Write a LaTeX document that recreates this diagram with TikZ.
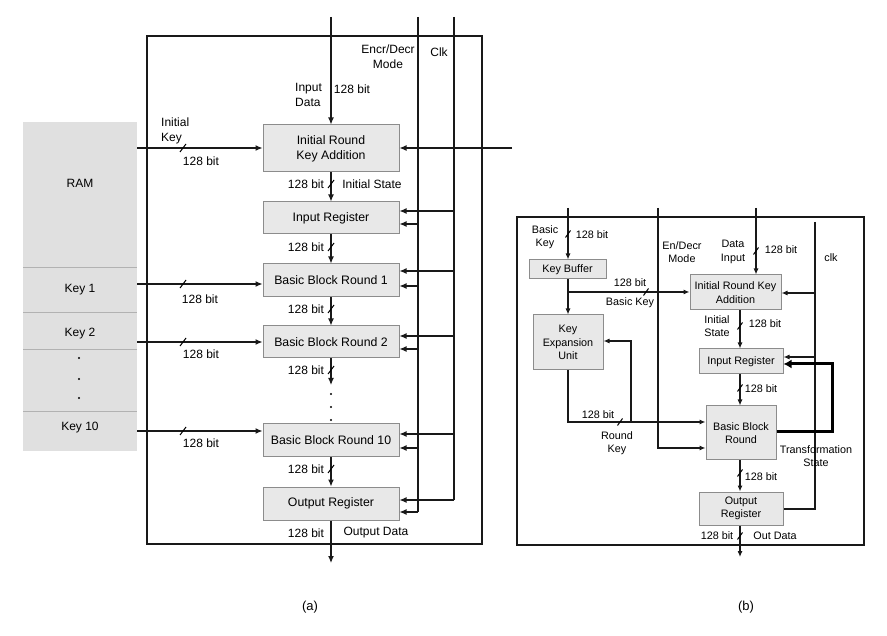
\documentclass[tikz,border=0pt]{standalone}
\usepackage{fontspec}
\setmainfont{Liberation Sans}
\usetikzlibrary{arrows.meta}
\begin{document}
\begin{tikzpicture}[x=1pt,y=-1pt,
  wire/.style={line width=1.2pt, draw=black!90},
  arr/.style={wire,-{Latex[length=7pt,width=6pt]}},
  wireb/.style={line width=1.1pt, draw=black!90},
  arrb/.style={wireb,-{Latex[length=6pt,width=5pt]}},
  thickarr/.style={line width=3pt, draw=black,-{Latex[length=8pt,width=9pt]}},
  blk/.style={draw=black!45, fill=black!9, line width=1pt, inner sep=0pt, align=center, font=\fontsize{12.3}{15}\selectfont},
  blkb/.style={blk, font=\fontsize{10.8}{13.5}\selectfont},
  lab/.style={inner sep=0pt, align=center, font=\fontsize{12}{15}\selectfont},
  labl/.style={lab, align=left},
  labb/.style={inner sep=0pt, align=center, font=\fontsize{10.8}{13.5}\selectfont},
  sl/.style={line width=1pt},
  ramcell/.style={fill=black!12, draw=none, inner sep=0pt, minimum width=114},
  frame/.style={draw=black!90, line width=1.2pt},
]
\useasboundingbox (0,0) rectangle (887,636);

% ================= (a) =================
\draw[frame] (147,36) rectangle (482,544);

% RAM column
\node[ramcell, minimum height=145] (ram)   at (80,194.5) {};
\node[ramcell, minimum height=45]  (key1)  at (80,289.5) {};
\node[ramcell, minimum height=37]  (key2)  at (80,330.5) {};
\node[ramcell, minimum height=62]  (kdots) at (80,380) {};
\node[ramcell, minimum height=40]  (key10) at (80,431) {};
\foreach \yy in {267,312,349,411} \draw[black!30, line width=0.8pt] (23,\yy) -- (137,\yy);
\node[lab] (ramt) at (80,183) {RAM};
\node[lab] (k1t) at (80,290) {Key 1};
\node[lab] (k2t) at (80,334) {Key 2};
\node[lab] (k10t) at (80,428) {Key 10};
\foreach \yy in {358,379,398} \fill (79,\yy) circle (1.1);

% blocks
\node[blk, minimum width=136, minimum height=47] (irka) at (331,148.5) {Initial Round\\Key Addition};
\node[blk, minimum width=136, minimum height=32] (ir) at (331,218) {Input Register};
\node[blk, minimum width=136, minimum height=33] (b1) at (331,280.5) {Basic Block Round 1};
\node[blk, minimum width=136, minimum height=32] (b2) at (331,342) {Basic Block Round 2};
\node[blk, minimum width=136, minimum height=33] (b10) at (331,440.5) {Basic Block Round 10};
\node[blk, minimum width=136, minimum height=33] (or) at (331,503.5) {Output Register};

% top inputs
\coordinate (indA) at (331,17);
\coordinate (encA) at (418,17);
\coordinate (clkA) at (454,17);
\coordinate (encAb) at (418,512);
\coordinate (clkAb) at (454,500);
\coordinate (extA) at (512,148);
\draw[arr] (indA) -- (irka.north);
\draw[wire] (encA) -- (encAb);
\draw[wire] (clkA) -- (clkAb);
\draw[arr] (extA) -- (irka.east |- extA);

% control arrows
\foreach \n/\yu/\yl in {ir/211/224, b1/271/286, b2/336/349, b10/434/448, or/500/512}{
  \draw[arr] (454,\yu) -- (\n.east |- 0,\yu);
  \draw[arr] (418,\yl) -- (\n.east |- 0,\yl);
}

% data path
\coordinate (dotsA) at (331,385);
\coordinate (outA) at (331,563);
\draw[arr] (irka) -- (ir);
\draw[arr] (ir) -- (b1);
\draw[arr] (b1) -- (b2);
\draw[arr] (b2) -- (dotsA);
\foreach \yy in {394,407,420} \fill (331,\yy) circle (1.1);
\draw[arr] (b10) -- (or);
\draw[arr] (or) -- (outA);

% key wires
\draw[arr] (ram.east |- 0,148) -- (irka.west |- 0,148);
\draw[arr] (key1.east |- 0,284) -- (b1.west |- 0,284);
\draw[arr] (key2.east |- 0,342) -- (b2.west |- 0,342);
\draw[arr] (key10.east |- 0,431) -- (b10.west |- 0,431);

% slashes (a)
\foreach \px/\py in {183/148, 183/284, 183/342, 183/431, 331/184, 331/247, 331/309, 331/370, 331/469}
  \draw[sl] (\px,\py) ++(-3,4) -- ++(6,-8);

% labels (a)
\node[labl, anchor=west] (ikl) at (161,131) {Initial\\Key};
\node[lab] (ikb) at (201,161) {128 bit};
\node[labl, anchor=west] (idl) at (295,95) {Input\\Data};
\node[lab] (idb) at (352,89) {128 bit};
\node[lab] (encl) at (388,57) {Encr/Decr\\Mode};
\node[lab] (clkl) at (439,52) {Clk};
\node[lab] (l1) at (306,184) {128 bit};
\node[lab] (isl) at (372,184) {Initial State};
\node[lab] (l2) at (306,247) {128 bit};
\node[lab] (l3) at (306,309) {128 bit};
\node[lab] (l4) at (306,370) {128 bit};
\node[lab] (l5) at (306,469) {128 bit};
\node[lab] (l6) at (306,533) {128 bit};
\node[lab] (odl) at (376,533) {Output Data};
\node[lab] (k1b) at (200,299) {128 bit};
\node[lab] (k2b) at (201,354) {128 bit};
\node[lab] (k10b) at (201,443) {128 bit};
\node[lab, font=\fontsize{13}{15}\selectfont] (capa) at (310,607) {(a)};

% ================= (b) =================
\draw[frame, line width=1.1pt] (517,217) rectangle (864,545);

\node[blkb, minimum width=77, minimum height=19] (kb) at (567.5,269.5) {Key Buffer};
\node[blkb, minimum width=70, minimum height=55] (keu) at (568,342.5) {Key\\Expansion\\Unit};
\node[blkb, minimum width=91, minimum height=35] (irka2) at (735.5,292.5) {Initial Round Key\\Addition};
\node[blkb, minimum width=84, minimum height=25] (ir2) at (741,361.5) {Input Register};
\node[blkb, minimum width=70, minimum height=54] (bbr) at (741,433) {Basic Block\\Round};
\node[blkb, minimum width=84, minimum height=33] (or2) at (741,508.5) {Output\\Register};

\coordinate (bkB) at (568,208);
\coordinate (enB) at (658,208);
\coordinate (diB) at (756,208);
\coordinate (clkB) at (815,222);
\coordinate (clkBb) at (815,509);
\coordinate (outB) at (740,557);

\draw[arrb] (bkB) -- (kb.north -| bkB);
\draw[arrb] (kb.south -| bkB) -- (keu.north -| bkB);
\draw[arrb] (568,292) -- (irka2.west |- 0,292);
\draw[arrb] (enB) -- (658,448) -- (bbr.west |- 0,448);
\draw[arrb] (diB) -- (irka2.north -| diB);
\draw[wireb] (clkB) -- (clkBb) -- (or2.east |- clkBb);
\draw[arrb] (815,293) -- (irka2.east |- 0,293);
\draw[arrb] (815,357) -- (ir2.east |- 0,357);
\draw[arrb] (irka2.south -| 740,0) -- (ir2.north -| 740,0);
\draw[arrb] (ir2.south -| 740,0) -- (bbr.north -| 740,0);
\draw[arrb] (bbr.south -| 740,0) -- (or2.north -| 740,0);
\draw[arrb] (or2.south -| 740,0) -- (outB);
\draw[arrb] (keu.south -| 568,0) -- (568,422) -- (bbr.west |- 0,422);
\draw[arrb] (631,422) -- (631,341) -- (keu.east |- 0,341);
\draw[thickarr] (bbr.east |- 0,432) -- (832,432) -- (832,364) -- (ir2.east |- 0,364);

% slashes (b)
\foreach \px/\py in {568/234, 646/292, 756/251, 740/326, 740/388, 620/422, 740/473, 740/536}
  \draw[sl] (\px,\py) ++(-2.5,3.5) -- ++(5,-7);

% labels (b)
\node[labb] (bkl) at (545,237) {Basic\\Key};
\node[labb] (bkb) at (592,235) {128 bit};
\node[labb] (bkb2) at (630,283) {128 bit};
\node[labb] (bkl2) at (630,303) {Basic Key};
\node[labb] (enl) at (682,252) {En/Decr\\Mode};
\node[labb] (dil) at (733,252) {Data\\Input};
\node[labb] (dib) at (781,250) {128 bit};
\node[labb] (clkl2) at (831,258) {clk};
\node[labb] (isl2) at (717,326) {Initial\\State};
\node[labb] (isb) at (765,324) {128 bit};
\node[labb] (irb) at (761,389) {128 bit};
\node[labb] (rkb) at (598,415) {128 bit};
\node[labb] (rkl) at (617,443) {Round\\Key};
\node[labb] (tsl) at (816,456) {Transformation\\State};
\node[labb] (bbrb) at (761,477) {128 bit};
\node[labb] (odb) at (717,536) {128 bit};
\node[labb] (odl2) at (775,536) {Out Data};
\node[lab, font=\fontsize{13}{15}\selectfont] (capb) at (746,607) {(b)};
\end{tikzpicture}
\end{document}
